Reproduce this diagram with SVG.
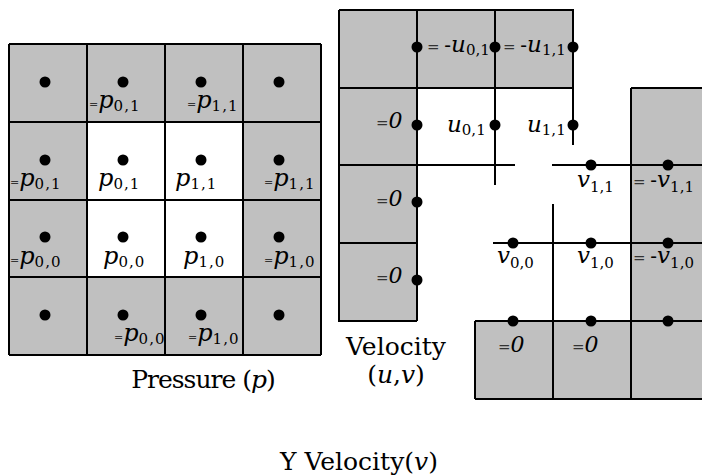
<svg xmlns="http://www.w3.org/2000/svg" width="702" height="476" viewBox="0 0 702 476">
<style>
.g{fill:#c0c0c0;stroke:none}
.ln{stroke:#000;stroke-width:2;fill:none}
.dot{fill:#000}
text{font-family:"DejaVu Serif",serif}
.eqp{font-size:11px;fill:#333}
.eq{font-size:15px;fill:#333}
.v{font-style:italic;font-size:24px}
.vu{font-style:italic;font-size:23px}
.sp{font-size:15px;letter-spacing:1px}
.su{font-size:15px}
.z{font-style:italic;font-size:22px}
.cap{font-size:25px}
.it{font-style:italic}
</style>
<g id="pressure">
<rect class="g" x="9" y="44" width="312" height="311"/>
<rect x="87" y="122" width="156" height="155" fill="#fff"/>
<path class="ln" d="M9 44V355M87 44V355M165 44V355M243 44V355M321 44V355M9 44H321M9 122H321M9 200H321M9 277H321M9 355H321"/>
<g class="dot">
<circle cx="45" cy="82" r="5.5"/><circle cx="123" cy="82" r="5.5"/><circle cx="201" cy="82" r="5.5"/><circle cx="279" cy="82" r="5.5"/>
<circle cx="45" cy="160" r="5.5"/><circle cx="123" cy="160" r="5.5"/><circle cx="201" cy="160" r="5.5"/><circle cx="279" cy="160" r="5.5"/>
<circle cx="45" cy="237" r="5.5"/><circle cx="123" cy="237" r="5.5"/><circle cx="201" cy="237" r="5.5"/><circle cx="279" cy="237" r="5.5"/>
<circle cx="45" cy="315" r="5.5"/><circle cx="123" cy="315" r="5.5"/><circle cx="201" cy="315" r="5.5"/><circle cx="279" cy="315" r="5.5"/>
</g>
<text x="89" y="108"><tspan class="eqp">=</tspan><tspan class="v">p</tspan><tspan class="sp" dy="3">0,1</tspan></text>
<text x="187" y="108"><tspan class="eqp">=</tspan><tspan class="v">p</tspan><tspan class="sp" dy="3">1,1</tspan></text>
<text x="10" y="186"><tspan class="eqp">=</tspan><tspan class="v">p</tspan><tspan class="sp" dy="3">0,1</tspan></text>
<text x="98" y="186"><tspan class="v">p</tspan><tspan class="sp" dy="3">0,1</tspan></text>
<text x="175" y="186"><tspan class="v">p</tspan><tspan class="sp" dy="3">1,1</tspan></text>
<text x="264" y="186"><tspan class="eqp">=</tspan><tspan class="v">p</tspan><tspan class="sp" dy="3">1,1</tspan></text>
<text x="10" y="264"><tspan class="eqp">=</tspan><tspan class="v">p</tspan><tspan class="sp" dy="3">0,0</tspan></text>
<text x="103" y="264"><tspan class="v">p</tspan><tspan class="sp" dy="3">0,0</tspan></text>
<text x="183" y="264"><tspan class="v">p</tspan><tspan class="sp" dy="3">1,0</tspan></text>
<text x="264" y="264"><tspan class="eqp">=</tspan><tspan class="v">p</tspan><tspan class="sp" dy="3">1,0</tspan></text>
<text x="114" y="341"><tspan class="eqp">=</tspan><tspan class="v">p</tspan><tspan class="sp" dy="3">0,0</tspan></text>
<text x="188" y="341"><tspan class="eqp">=</tspan><tspan class="v">p</tspan><tspan class="sp" dy="3">1,0</tspan></text>
<text class="cap" x="203" y="388" text-anchor="middle" letter-spacing="-1">Pressure (<tspan class="it">p</tspan>)</text>
</g>
<g id="velocity-u">
<rect class="g" x="339" y="10" width="234" height="78"/>
<rect class="g" x="339" y="88" width="78" height="233"/>
<text x="427" y="52"><tspan class="eq">= </tspan><tspan font-size="20">-</tspan><tspan class="vu">u</tspan><tspan class="su" dy="3">0,1</tspan></text>
<text x="503" y="52"><tspan class="eq">= </tspan><tspan font-size="20">-</tspan><tspan class="vu">u</tspan><tspan class="su" dy="3">1,1</tspan></text>
<text x="447" y="132"><tspan class="vu">u</tspan><tspan class="su" dy="3">0,1</tspan></text>
<text x="527" y="132"><tspan class="vu">u</tspan><tspan class="su" dy="3">1,1</tspan></text>
<text x="376" y="128"><tspan class="eq">=</tspan><tspan class="z">0</tspan></text>
<text x="376" y="206"><tspan class="eq">=</tspan><tspan class="z">0</tspan></text>
<text x="376" y="283"><tspan class="eq">=</tspan><tspan class="z">0</tspan></text>
<text class="cap" x="396" y="355" text-anchor="middle">Velocity</text>
<text class="cap" x="396" y="383" text-anchor="middle">(<tspan class="it">u</tspan>,<tspan class="it">v</tspan>)</text>
</g>
<g id="velocity-v">
<rect class="g" x="631" y="88" width="80" height="233"/>
<rect class="g" x="475" y="321" width="236" height="78"/>
<text x="633" y="187"><tspan class="eq">= </tspan><tspan font-size="20">-</tspan><tspan class="vu">v</tspan><tspan class="su" dy="5">1,1</tspan></text>
<text x="633" y="263"><tspan class="eq">= </tspan><tspan font-size="20">-</tspan><tspan class="vu">v</tspan><tspan class="su" dy="5">1,0</tspan></text>
<text x="577" y="187"><tspan class="vu">v</tspan><tspan class="su" dy="5">1,1</tspan></text>
<text x="577" y="263"><tspan class="vu">v</tspan><tspan class="su" dy="5">1,0</tspan></text>
<text x="497" y="263"><tspan class="vu">v</tspan><tspan class="su" dy="5">0,0</tspan></text>
<text x="498" y="352"><tspan class="eq">=</tspan><tspan class="z">0</tspan></text>
<text x="572" y="352"><tspan class="eq">=</tspan><tspan class="z">0</tspan></text>
</g>
<g id="connectors">
<path class="ln" d="M339 10H573V88M339 88H573M339 10V321H417M339 165H515M339 243H417M417 10V321M495 10V185M573 88V145"/>
<path class="ln" d="M631 88H711M631 88V399M552 165H711M493 243H711M475 321H711M475 399H711M475 321V399M553 204V399"/>
<g class="dot">
<circle cx="417" cy="47" r="5.5"/><circle cx="495" cy="47" r="5.5"/><circle cx="573" cy="47" r="5.5"/>
<circle cx="417" cy="125" r="5.5"/><circle cx="495" cy="125" r="5.5"/><circle cx="573" cy="125" r="5.5"/>
<circle cx="417" cy="202" r="5.5"/><circle cx="417" cy="280" r="5.5"/>
<circle cx="591" cy="165" r="5.5"/><circle cx="668" cy="165" r="5.5"/>
<circle cx="513" cy="243" r="5.5"/><circle cx="591" cy="243" r="5.5"/><circle cx="668" cy="243" r="5.5"/>
<circle cx="513" cy="321" r="5.5"/><circle cx="591" cy="321" r="5.5"/><circle cx="668" cy="321" r="5.5"/>
</g>
</g>
<text class="cap" x="359" y="470" text-anchor="middle">Y Velocity(<tspan class="it">v</tspan>)</text>
</svg>
